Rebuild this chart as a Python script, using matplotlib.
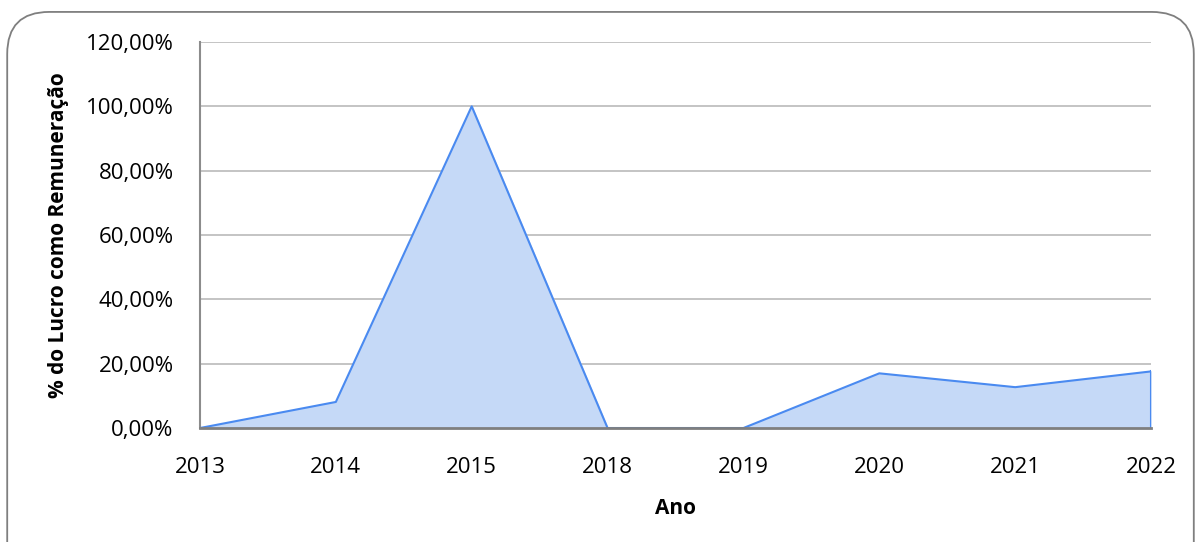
import matplotlib.pyplot as plt
from matplotlib.patches import FancyBboxPatch
from matplotlib.ticker import FuncFormatter

anos = ['2013', '2014', '2015', '2018', '2019', '2020', '2021', '2022']
percentual = [0.0, 8.1, 100.0, 0.0, 0.0, 17.0, 12.7, 17.6]

plt.rcParams['font.family'] = ['Open Sans', 'DejaVu Sans']

fig = plt.figure(figsize=(12.01, 5.42), dpi=100)
ax = fig.add_axes([0.1665, 0.2103, 0.7919, 0.7122])

# moldura arredondada (a borda de baixo fica fora da imagem)
frame = FancyBboxPatch((0.006, -0.1), 0.988, 1.078, boxstyle='round,pad=0,rounding_size=0.035',
                       transform=fig.transFigure, fill=False, edgecolor='#7f7f7f',
                       linewidth=1.3, mutation_aspect=1201 / 542)
fig.patches.append(frame)

x = list(range(len(anos)))
ax.fill_between(x, percentual, 0, color='#c5d9f7', zorder=2)
ax.plot(x, percentual, color='#4a8af0', linewidth=1.5, zorder=3)
ax.plot([x[-1], x[-1]], [0, percentual[-1]], color='#4a8af0', linewidth=1.5, zorder=3)

ax.set_xlim(0, len(anos) - 1)
ax.set_ylim(0, 120)
ax.set_yticks(range(0, 121, 20))
ax.yaxis.set_major_formatter(FuncFormatter(lambda v, p: f'{v:.2f}%'.replace('.', ',')))
ax.set_xticks(x)
ax.set_xticklabels(anos)

ax.grid(axis='y', color='#bfbfbf', linewidth=1.3, zorder=1)
ax.tick_params(axis='both', length=0, labelsize=16)
ax.tick_params(axis='y', pad=19)
ax.tick_params(axis='x', pad=21)
for side in ['top', 'right']:
    ax.spines[side].set_visible(False)
ax.spines['left'].set_color('#8c8c8c')
ax.spines['left'].set_linewidth(1.5)
ax.spines['bottom'].set_color('#7f7f7f')
ax.spines['bottom'].set_linewidth(2)
ax.spines['bottom'].set_zorder(4)

ax.set_xlabel('Ano', fontsize=15, fontweight='bold', labelpad=14)
ax.set_ylabel('% do Lucro como Remuneração', fontsize=15, fontweight='bold', labelpad=12)

fig.savefig('out.png', dpi=100)
